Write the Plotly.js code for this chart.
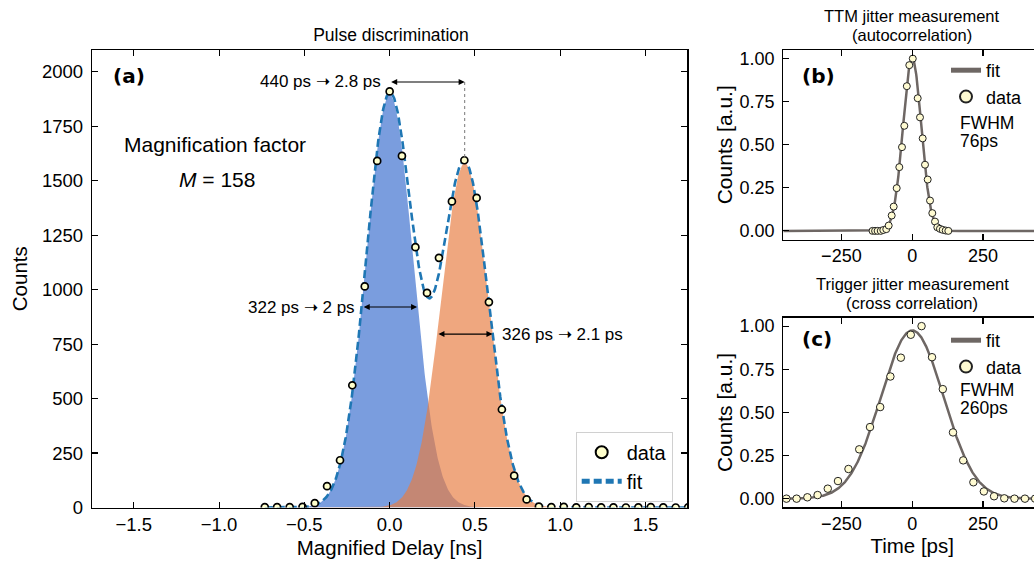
<!DOCTYPE html>
<html><head><meta charset="utf-8">
<script src="https://cdn.plot.ly/plotly-3.0.1.min.js"></script>
<style>html,body{margin:0;padding:0;overflow:hidden;background:#fff}#chart{width:1045px;height:561px}</style>
</head><body><div id="chart"></div>
<script>
// ---------- Panel (a): pulse discrimination ----------
const delayNs = [-0.732,-0.660,-0.586,-0.511,-0.439,-0.367,-0.291,-0.219,-0.146,-0.073,0.000,0.072,0.151,0.219,0.289,0.365,0.438,0.510,0.582,0.658,0.730,0.803,0.875,0.948,1.021,1.094,1.167,1.240,1.312,1.385,1.458,1.531,1.604,1.677,1.750];
const counts  = [2,2,2,3,20,98,217,561,1015,1591,1910,1614,1195,985,1146,1405,1594,1421,943,450,146,37,4,2,3,1,2,1,1,0,1,2,1,0,1];
// two-Gaussian fit parameters: amplitude (counts), centre (ns), FWHM (ns)
const peakAmp    = [1895, 1580];
const peakCentre = [0.0, 0.44];
const peakFwhm   = [0.322, 0.326];
const peakFill   = ['rgb(122,157,222)', 'rgba(232,126,66,0.68)'];
const fwhmLabels = ['322 ps \u279D 2 ps', '326 ps \u279D 2.1 ps'];
const sepLabel   = '440 ps \u279D 2.8 ps';
const delayTicks = [-1.5,-1.0,-0.5,0.0,0.5,1.0,1.5];
const countTicks = [0,250,500,750,1000,1250,1500,1750,2000];

// ---------- Panel (b): TTM jitter (autocorrelation) ----------
const ttmTimePs = [-140,-131,-122,-111,-102,-91.5,-83,-72.4,-65.3,-54.7,-45.5,-36,-27.8,-19,-10.2,2,19.4,27.5,37,45.2,54.7,62.9,71,80.5,88.6,98,107.7,118.3,127.5];
const ttmCounts = [0,0,0,0,0.005,0.01,0.031,0.089,0.141,0.248,0.37,0.486,0.61,0.84,0.962,1.0,0.77,0.659,0.537,0.384,0.298,0.176,0.103,0.054,0.021,0.012,0.006,0.002,0];
const ttmFit = {amp:1.0, centre:0, fwhm:76};

// ---------- Panel (c): trigger jitter (cross correlation) ----------
const trigTimePs = [-444,-408,-370,-334,-298,-262,-225,-187,-149,-113,-77,-40,-5,33,70,108,144,180,216,253,289,325,361,398,434];
const trigCounts = [0.0,0.0,0.008,0.021,0.058,0.102,0.172,0.286,0.415,0.531,0.708,0.817,0.95,1.0,0.82,0.635,0.384,0.222,0.095,0.042,0.014,0.002,0,0,0];
const trigFit = {amp:0.975, centre:0, fwhm:260};

const timeTicks = [-250,0,250];
const normTicks = [0,0.25,0.5,0.75,1.0];

// ---------- helpers ----------
const W = 1045, H = 561;
const px = v => v / W, py = v => 1 - v / H;
function gauss(x, a, mu, fwhm){ const s = fwhm/2.35482; return a*Math.exp(-(x-mu)*(x-mu)/(2*s*s)); }
function grid(lo, hi, n){ const g=[]; for(let i=0;i<=n;i++) g.push(lo+(hi-lo)*i/n); return g; }

const xRangeA = [-1.745, 1.745];
const gA = grid(delayNs[0], delayNs[delayNs.length-1], 800);
const gT = grid(-455, 455, 900);

const FONT = 'Liberation Sans, Arial, Helvetica, sans-serif';
const BOLD = 'DejaVu Sans, sans-serif';

const traces = [];
// fills
[0,1].forEach(k=>{
  traces.push({x:gA, y:gA.map(x=>gauss(x,peakAmp[k],peakCentre[k],peakFwhm[k])), type:'scatter', mode:'lines',
    line:{width:0}, fill:'tozeroy', fillcolor:peakFill[k], showlegend:false, hoverinfo:'skip', xaxis:'x', yaxis:'y'});
});
// total fit
traces.push({x:gA, y:gA.map(x=>gauss(x,peakAmp[0],peakCentre[0],peakFwhm[0])+gauss(x,peakAmp[1],peakCentre[1],peakFwhm[1])),
  type:'scatter', mode:'lines', name:'fit', line:{color:'#1f77b4', width:2.6, dash:'8px,4px'}, legend:'legend', legendrank:2, xaxis:'x', yaxis:'y'});
traces.push({x:delayNs, y:counts, type:'scatter', mode:'markers', name:'data',
  marker:{symbol:'circle', size:7, color:'#ffffcc', line:{color:'#000', width:1.7}}, legend:'legend', legendrank:1, xaxis:'x', yaxis:'y'});
// (b)
const fitCol = '#6e6764';
traces.push({x:gT, y:gT.map(x=>gauss(x,ttmFit.amp,ttmFit.centre,ttmFit.fwhm)), type:'scatter', mode:'lines', name:'fit',
  line:{color:fitCol, width:2.5}, legend:'legend2', xaxis:'x2', yaxis:'y2'});
traces.push({x:ttmTimePs, y:ttmCounts, type:'scatter', mode:'markers', name:'data',
  marker:{symbol:'circle', size:7, color:'#fffbd2', line:{color:'#222', width:1}}, legend:'legend2', xaxis:'x2', yaxis:'y2'});
// (c)
traces.push({x:gT, y:gT.map(x=>gauss(x,trigFit.amp,trigFit.centre,trigFit.fwhm)), type:'scatter', mode:'lines', name:'fit',
  line:{color:fitCol, width:2.5}, legend:'legend3', xaxis:'x3', yaxis:'y3'});
traces.push({x:trigTimePs, y:trigCounts, type:'scatter', mode:'markers', name:'data',
  marker:{symbol:'circle', size:7.5, color:'#fffbd2', line:{color:'#222', width:1}}, legend:'legend3', xaxis:'x3', yaxis:'y3'});

const axBase = {showline:true, linecolor:'#000', linewidth:1.2, mirror:'allticks', ticks:'inside', ticklen:6, tickwidth:1.1,
  tickcolor:'#000', showgrid:false, zeroline:false, automargin:false};
const xBase = Object.assign({}, axBase, {ticklabelstandoff:0});
const yBase = Object.assign({}, axBase, {ticklabelstandoff:4});

const layout = {
  width:W, height:H, margin:{l:0,r:0,t:0,b:0}, paper_bgcolor:'#fff', plot_bgcolor:'#fff',
  font:{family:FONT, color:'#000', size:18},
  title:{text:'Pulse discrimination', x:px(391), y:py(34.5), xanchor:'center', yanchor:'middle', xref:'paper', yref:'paper', font:{size:17.5}},
  xaxis:Object.assign({}, xBase, {domain:[px(92), px(687.3)], anchor:'y', range:xRangeA, tickvals:delayTicks, tickformat:'.1f',
    tickfont:{size:18.5}, title:{text:'Magnified Delay [ns]', font:{size:20.5}, standoff:6}}),
  yaxis:Object.assign({}, yBase, {domain:[py(507.5), py(50)], anchor:'x', range:[0,2100], tickvals:countTicks,
    tickfont:{size:18.5}, title:{text:'Counts', font:{size:20.5}, standoff:8}}),
  xaxis2:Object.assign({}, xBase, {domain:[px(783.3), px(1041.1)], anchor:'y2', range:[-455,455], tickvals:timeTicks, tickfont:{size:18}}),
  yaxis2:Object.assign({}, yBase, {domain:[py(239.5), py(50)], anchor:'x2', range:[-0.05,1.05], tickvals:normTicks, tickformat:'.2f',
    tickfont:{size:18}, title:{text:'Counts [a.u.]', font:{size:21}, standoff:1}}),
  xaxis3:Object.assign({}, xBase, {domain:[px(783.3), px(1041.1)], anchor:'y3', range:[-455,455], tickvals:timeTicks, tickfont:{size:18},
    title:{text:'Time [ps]', font:{size:20.5}, standoff:0}}),
  yaxis3:Object.assign({}, yBase, {domain:[py(507.3), py(317.5)], anchor:'x3', range:[-0.05,1.05], tickvals:normTicks, tickformat:'.2f',
    tickfont:{size:18}, title:{text:'Counts [a.u.]', font:{size:21}, standoff:1}}),
  legend:{x:px(575.7), y:py(431.7), xanchor:'left', yanchor:'top', bgcolor:'rgba(255,255,255,0.85)', bordercolor:'#d0d0d0', borderwidth:1,
    font:{size:20}, itemsizing:'constant', itemwidth:40},
  legend2:{x:px(946), y:py(52), xanchor:'left', yanchor:'top', bgcolor:'rgba(0,0,0,0)', borderwidth:0, font:{size:18}, itemsizing:'constant'},
  legend3:{x:px(946), y:py(322), xanchor:'left', yanchor:'top', bgcolor:'rgba(0,0,0,0)', borderwidth:0, font:{size:18}, itemsizing:'constant'},
  shapes:[
    {type:'line', xref:'x', yref:'y', x0:peakCentre[1], x1:peakCentre[1], y0:1953, y1:peakAmp[1]+20, line:{color:'#777', width:1, dash:'dot'}}
  ],
  annotations:[]
};

const A = layout.annotations;
function txt(t, x, y, opts){ A.push(Object.assign({text:t, x:px(x), y:py(y), xref:'paper', yref:'paper', showarrow:false, xanchor:'left', yanchor:'middle', font:{size:17}}, opts||{})); }
function dblArrow(x0, x1, y){ A.push({x:x1, y:y, ax:x0, ay:y, xref:'x', yref:'y', axref:'x', ayref:'y', text:'', showarrow:true,
  arrowside:'end+start', arrowhead:2, arrowsize:1.1, arrowwidth:1.1, arrowcolor:'#000', standoff:0, startstandoff:0}); }

// panel (a) texts
txt('(a)', 111, 76, {font:{size:20, family:BOLD, weight:'bold'}});
txt('Magnification factor', 121.5, 144, {font:{size:21}});
txt('<i>M</i> = 158', 177, 180, {font:{size:21}});
txt(sepLabel, 383, 81, {xanchor:'right', font:{size:17}});
dblArrow(peakCentre[0], peakCentre[1], 1953);
txt(fwhmLabels[0], 357, 307, {xanchor:'right', font:{size:17}});
dblArrow(peakCentre[0]-peakFwhm[0]/2, peakCentre[0]+peakFwhm[0]/2, 920);
txt(fwhmLabels[1], 500, 334, {font:{size:17}});
dblArrow(peakCentre[1]-peakFwhm[1]/2, peakCentre[1]+peakFwhm[1]/2, 796);

// panel (b)
txt('TTM jitter measurement', 912, 16, {xanchor:'center', font:{size:16.5}});
txt('(autocorrelation)', 912, 35, {xanchor:'center', font:{size:16.5}});
txt('(b)', 800, 76, {font:{size:20, family:BOLD, weight:'bold'}});
txt('FWHM', 958, 123, {font:{size:17.5}});
txt('76ps', 958, 141, {font:{size:17.5}});
// panel (c)
txt('Trigger jitter measurement', 912, 284, {xanchor:'center', font:{size:16.5}});
txt('(cross correlation)', 912, 303, {xanchor:'center', font:{size:16.5}});
txt('(c)', 800, 339, {font:{size:20, family:BOLD, weight:'bold'}});
txt('FWHM', 958, 390, {font:{size:17.5}});
txt('260ps', 958, 408, {font:{size:17.5}});

Plotly.newPlot('chart', traces, layout, {displayModeBar:false, staticPlot:true});
</script></body></html>
